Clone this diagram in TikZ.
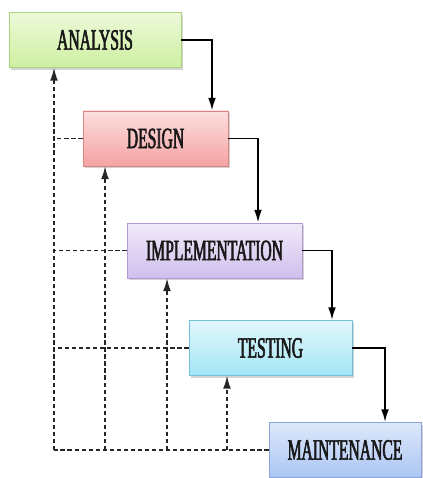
\documentclass[tikz,border=0pt]{standalone}
\usepackage{fontspec}
\usepackage{tikz}
\usetikzlibrary{calc,arrows.meta,shadows}
\newfontfamily\stagefont[FakeStretch=0.53,FakeBold=2]{Liberation Serif}
\definecolor{anaTop}{HTML}{EDFADA}\definecolor{anaBot}{HTML}{CDEFA0}\definecolor{anaLine}{HTML}{A9D47A}
\definecolor{desTop}{HTML}{FCDEDE}\definecolor{desBot}{HTML}{F5A3A3}\definecolor{desLine}{HTML}{D98484}
\definecolor{impTop}{HTML}{F1EAF9}\definecolor{impBot}{HTML}{D0BFEC}\definecolor{impLine}{HTML}{B29AD6}
\definecolor{tesTop}{HTML}{E1F7FC}\definecolor{tesBot}{HTML}{A4E6F6}\definecolor{tesLine}{HTML}{72C3D9}
\definecolor{maiTop}{HTML}{DDE8FB}\definecolor{maiBot}{HTML}{ABC5F3}\definecolor{maiLine}{HTML}{88A4D6}
\tikzset{
	stage/.style={rectangle, line width=0.6pt, inner sep=0pt, minimum height=55*0.025cm,
		font=\stagefont\fontsize{21}{25}\selectfont, text=black!90,
		drop shadow={opacity=0.35, shadow xshift=1.2pt, shadow yshift=-1.6pt}},
	stagecol/.style={top color=#1Top, bottom color=#1Bot, draw=#1Line},
	flow/.style={line width=1.3pt, -{Latex[length=9pt,width=5.5pt]}},
	back/.style={line width=0.9pt, dash pattern=on 3pt off 2pt, black!85},
	backup/.style={back, -{Latex[length=9pt,width=5.5pt]}}
}

\begin{document}
\begin{tikzpicture}[x=0.025cm, y=-0.025cm]
			%%%%% START %%%%%
			\useasboundingbox (0, 0) rectangle (422, 478);
			
			\node[stage, stagecol=ana, minimum width=172*0.025cm] (analysis) at (95, 40) {ANALYSIS};
			\node[stage, stagecol=des, minimum width=145*0.025cm] (design) at (155.5, 138.5) {DESIGN};
			\node[stage, stagecol=imp, minimum width=175*0.025cm] (impl) at (214.5, 250.5) {IMPLEMENTATION};
			\node[stage, stagecol=tes, minimum width=163*0.025cm] (testing) at (270.5, 348) {TESTING};
			\node[stage, stagecol=mai, minimum width=152*0.025cm] (maint) at (345, 450) {MAINTENANCE};
			
			% down the waterfall
			\coordinate (d1) at (212, 0);
			\coordinate (d2) at (258, 0);
			\coordinate (d3) at (332, 0);
			\coordinate (d4) at (385, 0);
			\draw[flow] (analysis.east) -| (d1 |- design.north);
			\draw[flow] (design.east) -| (d2 |- impl.north);
			\draw[flow] (impl.east) -| (d3 |- testing.north);
			\draw[flow] (testing.east) -| (d4 |- maint.north);
			
			% going back
			\coordinate (b0) at (54, 450);
			\coordinate (b1) at (105, 450);
			\coordinate (b2) at (167, 450);
			\coordinate (b3) at (227, 450);
			\draw[back] (maint.west) -- (b0);
			\draw[backup] (b0) -- (b0 |- analysis.south);
			\draw[backup] (b1) -- (b1 |- design.south);
			\draw[backup] (b2) -- (b2 |- impl.south);
			\draw[backup] (b3) -- (b3 |- testing.south);
			\draw[back] (design.west) -- (b0 |- design.west);
			\draw[back] (impl.west) -- (b0 |- impl.west);
			\draw[back] (testing.west) -- (b0 |- testing.west);
			
			%%%%% END %%%%%
\end{tikzpicture}
\end{document}
